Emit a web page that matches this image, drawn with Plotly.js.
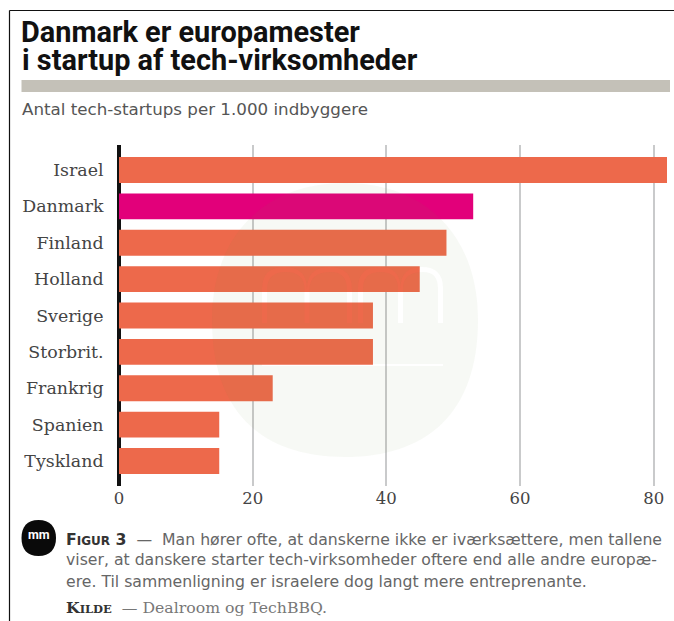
<!DOCTYPE html>
<html><head><meta charset="utf-8">
<script src="https://cdn.plot.ly/plotly-3.0.1.min.js"></script>
<style>html,body{margin:0;padding:0;background:#fff}#c{width:674px;height:621px}</style></head>
<body><div id="c"></div>
<script>
const categories = ["Israel","Danmark","Finland","Holland","Sverige","Storbrit.","Frankrig","Spanien","Tyskland"];
const values = [82,53,49,45,38,38,23,15,15];
const highlight = "Danmark";
const tickValues = [0,20,40,60,80];
const tickLabels = ["0","20","40","60","80"];
const titleLine1 = "Danmark er europamester";
const titleLine2 = "i startup af tech-virksomheder";
const subtitle = "Antal tech-startups per 1.000 indbyggere";
const captionLines = [
 "Man hører ofte, at danskerne ikke er iværksættere, men tallene",
 "viser, at danskere starter tech-virksomheder oftere end alle andre europæ-",
 "ere. Til sammenligning er israelere dog langt mere entreprenante."
];
const sourceText = "Dealroom og TechBBQ.";

const W=674,H=621,L=119,R=7,T=145,B=135;
const px=v=>(v-L)/(W-L-R), py=v=>1-(v-T)/(H-T-B);
const P=(x,y)=>px(x).toFixed(5)+","+py(y).toFixed(5);
function pathOf(cmds){
  return cmds.map(c=>{const l=c[0];const pts=[];for(let i=1;i<c.length;i+=2)pts.push(P(c[i],c[i+1]));return l+pts.join(" ")}).join(" ")+" Z";
}
function mGlyph(x,top,bot,w,t){
  const h=w/2,a=top+h/2;
  return pathOf([["M",x,bot],["L",x,a],["Q",x,top,x+h/2,top],["Q",x+h,top,x+h,a],["Q",x+h,top,x+1.5*h,top],["Q",x+w,top,x+w,a],["L",x+w,bot],["L",x+w-t,bot],["L",x+w-t,a],["Q",x+w-t,top+t,x+1.5*h+t/4,top+t],["Q",x+h+t/2,top+t,x+h+t/2,a],["L",x+h+t/2,bot],["L",x+h-t/2,bot],["L",x+h-t/2,a],["Q",x+h-t/2,top+t,x+h/2+t/4,top+t],["Q",x+t,top+t,x+t,a],["L",x+t,bot]]);
}
const blob=pathOf([["M",345,183],["C",425,183,478,235,478,320],["C",478,415,425,457,345,457],["C",265,457,212,415,212,320],["C",212,235,265,183,345,183]]);
const rectP=(x0,y0,x1,y1)=>pathOf([["M",x0,y0],["L",x1,y0],["L",x1,y1],["L",x0,y1]]);
const wm=[blob,mGlyph(262,267,323,90,5),mGlyph(358,267,323,85,5),rectP(262,364,443,366)].join(" ");
const logoPath=pathOf([["M",38.5,520],["C",50,520,56,527,56,538],["C",56,549,50,556,38.5,556],["C",27,556,21.5,549,21.5,538],["C",21.5,527,27,520,38.5,520]]);

const sans="'DejaVu Sans','Liberation Sans',sans-serif", serif="'DejaVu Serif','Liberation Serif',serif", head="Roboto,'Liberation Sans',sans-serif";
const txt=(text,x,y,size,color,family,extra)=>Object.assign({text,xref:"paper",yref:"paper",x:px(x),y:py(y),xanchor:"left",yanchor:"middle",showarrow:false,align:"left",borderpad:0,font:{size,color,family}},extra||{});

const data=[{type:"bar",orientation:"h",y:categories,x:values,
  marker:{color:categories.map(c=>c===highlight?"#E2007A":"#ED694B"),line:{width:0}},hoverinfo:"x+y"}];

const annotations=[
 txt("<b>"+titleLine2+"</b>",21,60,28.9,"#111",head),
 txt(subtitle,21,109,16.7,"#555",sans),
 txt("<b>mm</b>",38.5,534,12.5,"#fff",head,{xanchor:"center"}),
 txt("<b><span style='color:#333'>F<span style='font-size:12px'>IGUR</span> 3</span></b> \u00A0— \u00A0"+captionLines[0],65,539,15.7,"#666",sans),
 txt(captionLines[1],65,559,15.7,"#666",sans),
 txt(captionLines[2],65,581,15.7,"#666",sans),
 txt("<b><span style='color:#333'>K<span style='font-size:11.5px'>ILDE</span></span></b>  — "+sourceText,65,607,15.7,"#777",serif)
];

const shapes=[
 {type:"rect",xref:"paper",yref:"paper",x0:px(21.5),x1:px(670),y0:py(80),y1:py(92),fillcolor:"#C4C1B8",line:{width:0},layer:"below"},
 {type:"line",xref:"paper",yref:"paper",x0:px(9.5),x1:px(674),y0:py(10.5),y1:py(10.5),line:{color:"#111",width:1.2}},
 {type:"line",xref:"paper",yref:"paper",x0:px(9.5),x1:px(9.5),y0:py(10.5),y1:py(621),line:{color:"#111",width:1.2}},
 {type:"path",xref:"paper",yref:"paper",path:wm,fillrule:"evenodd",fillcolor:"rgba(110,140,80,0.055)",line:{width:0},layer:"above"},
 {type:"path",xref:"paper",yref:"paper",path:logoPath,fillcolor:"#0a0a0a",line:{width:0}},
];

const layout={width:W,height:H,margin:{l:L,r:R,t:T,b:B,pad:0},paper_bgcolor:"#fff",plot_bgcolor:"#fff",
 title:{text:"<b>"+titleLine1+"</b>",x:21/W,xanchor:"left",y:1-32/H,yanchor:"middle",pad:{t:0,b:0,l:0,r:0},font:{size:28.9,color:"#111",family:head}},
 showlegend:false,bargap:0.286,
 xaxis:{range:[0,82],tickvals:tickValues,ticktext:tickLabels,showgrid:true,gridcolor:"#C9CACB",gridwidth:1.6,zeroline:true,zerolinecolor:"#111",zerolinewidth:3.5,showline:false,ticks:"",tickfont:{family:serif,size:16.5,color:"#444"},automargin:false,fixedrange:true},
 yaxis:{type:"category",categoryorder:"array",categoryarray:categories,range:[8.687,-0.687],showgrid:false,zeroline:false,showline:false,ticks:"outside",ticklen:11,tickcolor:"rgba(0,0,0,0)",tickfont:{family:serif,size:17.4,color:"#444"},automargin:false,fixedrange:true},
 annotations,shapes};
Plotly.newPlot("c",data,layout,{displayModeBar:false});
</script></body></html>
